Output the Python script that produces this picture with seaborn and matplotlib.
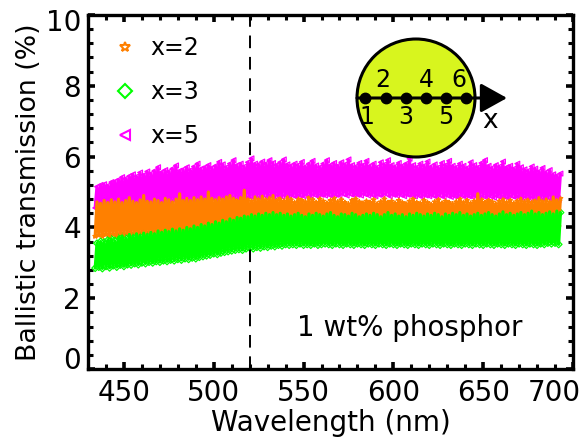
import matplotlib
matplotlib.use("Agg")
import matplotlib.pyplot as plt
import matplotlib.transforms as mtransforms
import seaborn as sns
import pandas as pd
from matplotlib.lines import Line2D
from matplotlib.patches import Circle
from matplotlib.ticker import MultipleLocator

# ---------------- data ----------------
wavelength = list(range(434, 694))  # nm, 1 nm steps

# x = 5 (magenta)
t_x5 = [
    4.55, 5.15, 4.58, 5.2, 4.54, 5.22, 4.6, 5.18, 4.57, 5.28,
    4.6, 5.3, 4.56, 5.35, 4.62, 5.42, 4.58, 5.38, 4.63, 5.45,
    4.6, 5.5, 4.66, 5.44, 4.62, 5.55, 4.68, 5.48, 4.64, 5.58,
    4.7, 5.52, 4.66, 5.6, 4.72, 5.7, 4.68, 5.56, 4.7, 5.62,
    4.74, 5.58, 4.7, 5.66, 4.76, 5.75, 4.72, 5.6, 4.74, 5.64,
    4.78, 5.7, 4.74, 5.62, 4.78, 5.72, 4.75, 5.8, 4.8, 5.66,
    4.76, 5.7, 4.8, 5.76, 4.78, 5.68, 4.82, 5.74, 4.78, 5.85,
    4.82, 5.78, 4.8, 5.7, 4.84, 5.8, 4.8, 5.9, 4.85, 5.76,
    4.82, 5.8, 4.86, 5.72, 4.82, 5.84, 4.86, 5.95, 4.84, 5.8,
    4.88, 5.78, 4.84, 5.86, 4.9, 5.8, 4.86, 5.9, 4.88, 5.82,
    4.86, 5.76, 4.9, 5.84, 4.86, 5.92, 4.9, 5.78, 4.88, 5.74,
    4.9, 5.8, 4.86, 5.76, 4.9, 5.85, 4.88, 5.72, 4.92, 5.8,
    4.88, 5.88, 4.92, 5.75, 4.88, 5.7, 4.92, 5.8, 4.9, 5.9,
    4.92, 5.76, 4.88, 5.82, 4.92, 5.74, 4.9, 5.84, 4.94, 5.78,
    4.9, 5.92, 4.94, 5.76, 4.9, 5.72, 4.92, 5.82, 4.9, 5.76,
    4.94, 5.88, 4.9, 5.74, 4.92, 5.8, 4.88, 5.7, 4.92, 5.84,
    4.9, 5.78, 4.94, 5.9, 4.88, 5.76, 4.92, 5.72, 4.9, 5.82,
    4.92, 5.74, 4.88, 5.8, 4.92, 5.94, 4.9, 5.76, 4.88, 5.7,
    4.9, 5.8, 4.86, 5.74, 4.9, 5.86, 4.88, 5.72, 4.9, 5.78,
    4.86, 5.7, 4.9, 5.82, 4.86, 5.76, 4.9, 5.88, 4.86, 5.74,
    4.88, 5.7, 4.86, 5.8, 4.9, 5.74, 4.86, 5.68, 4.88, 5.84,
    4.86, 5.76, 4.88, 5.7, 4.84, 5.82, 4.88, 5.9, 4.86, 5.74,
    4.88, 5.68, 4.84, 5.76, 4.88, 5.72, 4.84, 5.86, 4.86, 5.7,
    4.84, 5.74, 4.88, 5.66, 4.84, 5.8, 4.86, 5.7, 4.82, 5.64,
    4.86, 5.6, 4.82, 5.72, 4.84, 5.66, 4.8, 5.58, 4.84, 5.68,
    4.8, 5.56, 4.84, 5.62, 4.8, 5.5, 4.82, 5.46, 4.78, 5.52,
]

# x = 2 (orange)
t_x2 = [
    3.75, 4.72, 3.78, 4.68, 3.74, 4.76, 3.8, 4.7, 3.76, 4.78,
    3.8, 4.72, 3.76, 4.8, 3.82, 4.7, 3.78, 4.76, 3.82, 4.84,
    3.8, 4.74, 3.84, 4.7, 3.8, 4.78, 3.84, 4.9, 3.82, 4.74,
    3.86, 4.72, 3.82, 4.8, 3.86, 4.76, 3.84, 4.7, 3.88, 4.82,
    3.86, 4.78, 3.9, 4.72, 3.86, 4.8, 3.9, 4.95, 3.88, 4.76,
    3.92, 4.82, 3.88, 4.76, 3.92, 4.84, 3.9, 4.78, 3.94, 4.86,
    3.9, 4.8, 3.94, 5.0, 3.92, 4.82, 3.96, 4.78, 3.92, 4.84,
    3.96, 4.8, 3.94, 4.86, 3.98, 4.9, 3.94, 4.82, 3.98, 4.76,
    3.96, 4.84, 4.0, 5.05, 3.96, 4.8, 4.0, 4.74, 3.98, 4.86,
    4.0, 4.8, 3.98, 4.88, 4.02, 4.78, 3.98, 4.84, 4.02, 4.9,
    4.0, 4.76, 4.02, 4.82, 3.98, 4.74, 4.02, 4.86, 4.0, 4.78,
    4.02, 4.7, 3.98, 4.8, 4.02, 4.76, 4.0, 4.72, 4.02, 4.84,
    3.98, 4.78, 4.02, 4.7, 4.0, 4.8, 4.02, 4.74, 3.98, 4.68,
    4.02, 4.76, 4.0, 4.82, 4.02, 4.72, 3.98, 4.78, 4.02, 4.7,
    4.0, 4.66, 4.02, 4.76, 3.98, 4.8, 4.02, 4.72, 4.0, 4.68,
    4.02, 4.74, 4.0, 4.7, 4.02, 4.78, 3.98, 4.66, 4.02, 4.72,
    4.0, 4.8, 4.02, 4.7, 3.98, 4.74, 4.02, 4.68, 4.0, 4.76,
    4.02, 4.7, 3.98, 4.66, 4.02, 4.74, 4.0, 4.8, 4.02, 4.7,
    3.98, 4.68, 4.02, 4.76, 4.0, 4.7, 4.02, 4.64, 3.98, 4.72,
    4.02, 4.78, 4.0, 4.68, 4.02, 4.74, 3.98, 4.7, 4.02, 4.66,
    4.0, 4.72, 4.02, 4.8, 3.98, 4.7, 4.02, 4.76, 4.0, 4.68,
    4.02, 4.74, 3.98, 4.95, 4.02, 4.78, 4.0, 4.7, 4.02, 4.76,
    4.0, 4.72, 4.02, 4.66, 3.98, 4.74, 4.02, 4.8, 4.0, 4.7,
    4.02, 4.76, 4.0, 4.68, 4.02, 4.74, 3.98, 4.82, 4.02, 4.72,
    4.0, 4.78, 4.02, 4.7, 3.98, 4.76, 4.02, 4.84, 4.0, 4.74,
    4.02, 4.8, 4.0, 4.72, 4.02, 4.86, 3.98, 4.78, 4.02, 4.82,
]

# x = 3 (green)
t_x3 = [
    2.85, 3.55, 2.88, 3.6, 2.84, 3.58, 2.9, 3.64, 2.86, 3.68,
    2.92, 3.62, 2.88, 3.72, 2.94, 3.76, 2.9, 3.7, 2.95, 3.8,
    2.94, 3.76, 2.98, 3.82, 2.95, 3.78, 3.0, 3.84, 2.98, 3.8,
    3.02, 3.86, 3.0, 3.82, 3.04, 3.9, 3.02, 3.86, 3.06, 3.92,
    3.04, 3.88, 3.08, 3.95, 3.06, 3.9, 3.1, 3.96, 3.08, 3.92,
    3.12, 4.0, 3.1, 3.96, 3.14, 4.04, 3.12, 4.0, 3.16, 4.08,
    3.18, 4.04, 3.2, 4.12, 3.22, 4.08, 3.26, 4.16, 3.24, 4.12,
    3.28, 4.2, 3.3, 4.16, 3.32, 4.24, 3.34, 4.2, 3.36, 4.28,
    3.38, 4.26, 3.36, 4.32, 3.4, 4.3, 3.42, 4.36, 3.4, 4.32,
    3.44, 4.38, 3.42, 4.34, 3.46, 4.4, 3.44, 4.36, 3.48, 4.42,
    3.46, 4.36, 3.5, 4.4, 3.48, 4.34, 3.52, 4.38, 3.5, 4.32,
    3.52, 4.36, 3.5, 4.4, 3.54, 4.34, 3.5, 4.3, 3.52, 4.38,
    3.5, 4.34, 3.54, 4.4, 3.5, 4.36, 3.52, 4.32, 3.54, 4.38,
    3.52, 4.42, 3.5, 4.34, 3.54, 4.3, 3.52, 4.38, 3.5, 4.36,
    3.54, 4.32, 3.52, 4.4, 3.5, 4.36, 3.54, 4.3, 3.52, 4.34,
    3.5, 4.38, 3.54, 4.34, 3.52, 4.4, 3.5, 4.36, 3.54, 4.3,
    3.52, 4.36, 3.5, 4.42, 3.54, 4.34, 3.52, 4.38, 3.5, 4.32,
    3.54, 4.36, 3.52, 4.3, 3.5, 4.38, 3.54, 4.34, 3.52, 4.4,
    3.5, 4.36, 3.54, 4.32, 3.52, 4.38, 3.5, 4.34, 3.54, 4.4,
    3.52, 4.36, 3.5, 4.3, 3.54, 4.38, 3.52, 4.34, 3.5, 4.4,
    3.54, 4.36, 3.52, 4.42, 3.5, 4.34, 3.54, 4.38, 3.52, 4.32,
    3.5, 4.36, 3.54, 4.4, 3.52, 4.34, 3.5, 4.38, 3.54, 4.42,
    3.52, 4.36, 3.5, 4.32, 3.54, 4.38, 3.52, 4.44, 3.5, 4.36,
    3.54, 4.4, 3.52, 4.34, 3.5, 4.38, 3.54, 4.42, 3.52, 4.36,
    3.5, 4.4, 3.54, 4.46, 3.52, 4.38, 3.5, 4.42, 3.54, 4.36,
    3.52, 4.4, 3.56, 4.44, 3.54, 4.38, 3.56, 4.46, 3.52, 4.42,
]

series_labels = ["x=2", "x=3", "x=5"]
series_values = {"x=2": t_x2, "x=3": t_x3, "x=5": t_x5}
series_colors = {"x=2": "#ff8000", "x=3": "#00ff00", "x=5": "#ff00ff"}
series_markers = {"x=2": "*", "x=3": "D", "x=5": "<"}
draw_order = ["x=5", "x=2", "x=3"]

x_ticks = [450, 500, 550, 600, 650, 700]
y_ticks = [0, 2, 4, 6, 8, 10]
marker_wavelength = 520
annotation_text = "1 wt% phosphor"

frames = []
for lab in series_labels:
    frames.append(pd.DataFrame({"Wavelength": wavelength,
                                "T": series_values[lab],
                                "series": lab}))
df = pd.concat(frames, ignore_index=True)

# ---------------- figure ----------------
sns.set_theme(style="white")
plt.rcParams["font.family"] = ["DejaVu Sans"]
plt.rcParams["text.color"] = "black"
plt.rcParams["axes.labelcolor"] = "black"
plt.rcParams["xtick.color"] = "black"
plt.rcParams["ytick.color"] = "black"

W, H = 584, 442
fig = plt.figure(figsize=(W / 100, H / 100), dpi=100)
L, R, T, B = 88, 573, 15, 369
ax = fig.add_axes([L / W, 1 - B / H, (R - L) / W, (B - T) / H])

for lab in draw_order:
    sub = df[df["series"] == lab]
    sns.lineplot(data=sub, x="Wavelength", y="T", color=series_colors[lab],
                 lw=2.3, sort=False, estimator=None, ax=ax, legend=False)
    sns.scatterplot(data=sub, x="Wavelength", y="T", marker=series_markers[lab],
                    s=12, facecolor="none", edgecolor=series_colors[lab],
                    linewidth=0.9, ax=ax, legend=False)

ax.axvline(marker_wavelength, color="black", lw=1.4, ls=(0, (6.5, 4.5)), zorder=1)

ax.set_xlim(430, 700)
ax.set_ylim(0, 10)
ax.set_xticks(x_ticks)
ax.set_yticks(y_ticks)
ax.xaxis.set_minor_locator(MultipleLocator(10))
ax.yaxis.set_minor_locator(MultipleLocator(0.4))
ax.tick_params(which="both", direction="in", top=True, right=True,
               bottom=True, left=True, colors="black", labelcolor="black")
ax.tick_params(which="major", length=5, width=2.6, labelsize=20)
ax.tick_params(axis="x", which="major", pad=7)
ax.tick_params(axis="y", which="major", pad=5)
ax.tick_params(which="minor", length=3.5, width=2.2)
for sp in ax.spines.values():
    sp.set_color("black")
    sp.set_linewidth(2.4)

fig.canvas.draw()
ylabs = ax.get_yticklabels()
ylabs[0].set_va("baseline")
ylabs[-1].set_transform(ylabs[-1].get_transform() +
                        mtransforms.ScaledTranslation(0, -5 / 100, fig.dpi_scale_trans))
xlabs = ax.get_xticklabels()
xlabs[-1].set_transform(xlabs[-1].get_transform() +
                        mtransforms.ScaledTranslation(-19 / 100, 0, fig.dpi_scale_trans))

ax.set_xlabel("Wavelength (nm)", fontsize=20, color="black")
ax.set_ylabel("Ballistic transmission (%)", fontsize=19.3, color="black")
ax.xaxis.set_label_coords(0.5, -0.112)
ax.yaxis.set_label_coords(-0.094, 0.5)

ax.text(609, 1.15, annotation_text, fontsize=20, ha="center", va="center",
        color="black")

handles = [Line2D([], [], ls="none", marker=series_markers[l], ms=7,
                  mfc="none", mec=series_colors[l], mew=1.5) for l in series_labels]
leg = ax.legend(handles, series_labels, loc="upper left", bbox_to_anchor=(0.052, 0.94),
                frameon=False, fontsize=17, handlelength=1.0, handletextpad=0.56,
                labelspacing=0.84, borderpad=0, borderaxespad=0)
for t in leg.get_texts():
    t.set_color("black")

# ---------------- inset schematic (pixel coordinates) ----------------
ov = fig.add_axes([0, 0, 1, 1], zorder=5)
ov.set_xlim(0, W)
ov.set_ylim(H, 0)
ov.axis("off")
ov.add_patch(Circle((416, 98), 59, facecolor="#d8f51e", edgecolor="black", lw=2.2))
ov.annotate("", xy=(507, 98), xytext=(357, 98),
            arrowprops=dict(arrowstyle="-|>,head_length=0.9,head_width=0.5",
                            lw=2.2, color="black", mutation_scale=18,
                            shrinkA=0, shrinkB=0))
dot_x = [365, 386, 406, 426, 446, 466]
ov.plot(dot_x, [98] * 6, "o", color="black", ms=7.5, ls="none")
num_x = [367, 383, 406, 426, 446, 459]
for i, xx in enumerate(num_x):
    lab = str(i + 1)
    yy = 80 if (i + 1) % 2 == 0 else 117
    ov.text(xx, yy, lab, fontsize=17, ha="center", va="center", color="black")
ov.text(490, 121, "x", fontsize=19, ha="center", va="center", color="black")

fig.savefig("out.png", dpi=100)
